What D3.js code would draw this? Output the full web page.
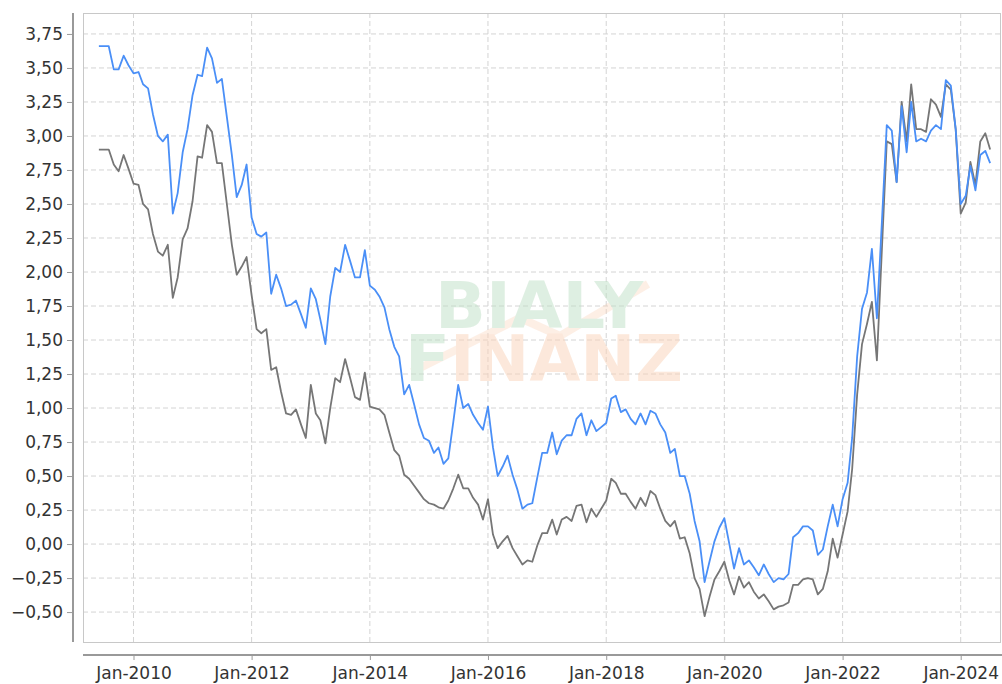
<!DOCTYPE html>
<html lang="en">
<head>
<meta charset="utf-8" />
<title>Rates</title>
<style>
  * { margin: 0; padding: 0; }
  body { background: #fff; font-family: "DejaVu Sans", sans-serif; }
  .grid line { stroke: #d4d4d4; stroke-width: 1; stroke-dasharray: 5,3; }
  .axis text { font-family: "DejaVu Sans", sans-serif; font-size: 17px; fill: #333; }
  .axis line, .axis path { stroke: #999; }
  .line { fill: none; stroke-width: 1.8; stroke-linejoin: round; }
</style>
</head>
<body>
<script src="https://d3js.org/d3.v7.min.js"></script>
<div id="chart"></div>
<script>

  // monthly values, first month June 2009
  var firstMonth = [2009, 5];
  var blueValues = [
    3.66, 3.66, 3.66, 3.49, 3.49, 3.59, 3.52,
    3.46, 3.47, 3.38, 3.35, 3.16, 3.00, 2.96, 3.01, 2.43, 2.58,
    2.88, 3.05, 3.30, 3.45, 3.44, 3.65, 3.57, 3.39, 3.42, 3.14,
    2.86, 2.55, 2.64, 2.79, 2.40, 2.28, 2.26, 2.29, 1.84, 1.98,
    1.88, 1.75, 1.76, 1.79, 1.69, 1.59, 1.88, 1.80, 1.65, 1.47,
    1.82, 2.03, 2.00, 2.20, 2.08, 1.96, 1.96, 2.16, 1.90, 1.87,
    1.82, 1.74, 1.58, 1.45, 1.38, 1.10, 1.17, 1.03, 0.88, 0.78,
    0.76, 0.67, 0.71, 0.59, 0.63, 0.90, 1.17, 1.00, 1.03, 0.95,
    0.89, 0.84, 1.01, 0.71, 0.50, 0.57, 0.65, 0.51, 0.40, 0.26,
    0.29, 0.30, 0.49, 0.67, 0.67, 0.82, 0.66, 0.76, 0.80, 0.80,
    0.92, 0.96, 0.80, 0.91, 0.83, 0.86, 0.89, 1.07, 1.09, 0.97,
    0.99, 0.92, 0.88, 0.96, 0.88, 0.98, 0.96, 0.88, 0.82, 0.67,
    0.70, 0.50, 0.50, 0.37, 0.17, 0.02, -0.28, -0.13, 0.02, 0.12,
    0.19, 0.00, -0.18, -0.03, -0.15, -0.12, -0.17, -0.23, -0.15, -0.22,
    -0.28, -0.25, -0.26, -0.22, 0.05, 0.08, 0.13, 0.13, 0.10, -0.08,
    -0.04, 0.13, 0.29, 0.13, 0.33, 0.45, 0.78, 1.38, 1.73, 1.85,
    2.17, 1.66, 2.37, 3.08, 3.04, 2.66, 3.22, 2.88, 3.25, 2.96,
    2.98, 2.96, 3.04, 3.08, 3.05, 3.41, 3.37, 3.05, 2.50, 2.56,
    2.78, 2.60, 2.86, 2.89, 2.80
  ];
  var grayValues = [
    2.90, 2.90, 2.90, 2.79, 2.74, 2.86, 2.76,
    2.65, 2.64, 2.50, 2.46, 2.28, 2.15, 2.12, 2.20, 1.81, 1.96,
    2.24, 2.32, 2.52, 2.85, 2.84, 3.08, 3.03, 2.80, 2.80, 2.50,
    2.20, 1.98, 2.04, 2.11, 1.83, 1.58, 1.55, 1.58, 1.28, 1.30,
    1.12, 0.96, 0.95, 0.99, 0.88, 0.78, 1.17, 0.96, 0.91, 0.74,
    1.00, 1.22, 1.19, 1.36, 1.22, 1.08, 1.06, 1.26, 1.01, 1.00,
    0.99, 0.95, 0.82, 0.69, 0.65, 0.51, 0.48, 0.43, 0.38, 0.33,
    0.30, 0.29, 0.27, 0.26, 0.32, 0.41, 0.51, 0.41, 0.41, 0.34,
    0.29, 0.18, 0.33, 0.07, -0.03, 0.02, 0.06, -0.03, -0.09, -0.15,
    -0.12, -0.13, -0.01, 0.08, 0.08, 0.18, 0.07, 0.18, 0.20, 0.17,
    0.28, 0.29, 0.16, 0.26, 0.20, 0.26, 0.32, 0.48, 0.45, 0.37,
    0.37, 0.31, 0.26, 0.34, 0.28, 0.39, 0.36, 0.26, 0.17, 0.13,
    0.17, 0.04, 0.05, -0.07, -0.25, -0.33, -0.53, -0.39, -0.26, -0.20,
    -0.13, -0.27, -0.37, -0.24, -0.32, -0.28, -0.35, -0.40, -0.37, -0.42,
    -0.48, -0.46, -0.45, -0.43, -0.30, -0.30, -0.26, -0.25, -0.26, -0.37,
    -0.33, -0.20, 0.04, -0.10, 0.07, 0.24, 0.55, 1.10, 1.47, 1.62,
    1.78, 1.35, 2.17, 2.96, 2.94, 2.66, 3.25, 2.96, 3.38, 3.05,
    3.05, 3.03, 3.27, 3.23, 3.14, 3.38, 3.34, 3.05, 2.43, 2.51,
    2.81, 2.64, 2.96, 3.02, 2.90
  ];
  var yTicks = [-0.5, -0.25, 0, 0.25, 0.5, 0.75, 1, 1.25, 1.5, 1.75, 2, 2.25, 2.5, 2.75, 3, 3.25, 3.5, 3.75];
  var xTickYears = [2010, 2012, 2014, 2016, 2018, 2020, 2022, 2024];

  var W = 1002, H = 684;
  var plotL = 83, plotR = 1000, plotT = 13, plotB = 642;

  var svg = d3.select("#chart").append("svg")
      .attr("width", W)
      .attr("height", H);

  var x = d3.scaleTime()
      .domain([new Date(2010, 0, 1), new Date(2024, 0, 1)])
      .range([133.5, 960.7]);
  var y = d3.scaleLinear()
      .domain([-0.72, 3.904])
      .range([plotB, plotT]);

  var xTicks = xTickYears.map(function(yr) { return new Date(yr, 0, 1); });
  var fmtY = function(d) { return d3.format(".2f")(d).replace(".", ","); };

  // grid
  var grid = svg.append("g").attr("class", "grid");
  grid.selectAll(".h").data(yTicks).enter().append("line")
      .attr("x1", plotL).attr("x2", plotR)
      .attr("y1", function(d) { return y(d); })
      .attr("y2", function(d) { return y(d); });
  grid.selectAll(".v").data(xTicks).enter().append("line")
      .attr("y1", plotT).attr("y2", plotB)
      .attr("x1", function(d) { return x(d); })
      .attr("x2", function(d) { return x(d); });

  // watermark
  var wm = svg.append("g").attr("opacity", 0.5)
      .style("font-family", "'DejaVu Sans', sans-serif")
      .style("font-weight", "bold")
      .style("font-size", "64px");
  wm.append("path")
      .attr("d", "M412,372 L520,318 L560,336 L648,284")
      .attr("fill", "none")
      .attr("stroke", "#fbd3b8")
      .attr("stroke-opacity", 0.7)
      .attr("stroke-width", 8);
  wm.append("text").attr("x", 435).attr("y", 328)
      .attr("textLength", 208).attr("lengthAdjust", "spacingAndGlyphs")
      .attr("fill", "#bfe0c6").text("BIALY");
  var fin = wm.append("text").attr("x", 405).attr("y", 381)
      .attr("textLength", 278).attr("lengthAdjust", "spacingAndGlyphs");
  fin.append("tspan").attr("fill", "#bfe0c6").text("F");
  fin.append("tspan").attr("fill", "#fbd3b8").text("INANZ");

  // plot border
  svg.append("rect")
      .attr("x", plotL + 0.5).attr("y", plotT + 0.5)
      .attr("width", plotR - plotL).attr("height", plotB - plotT)
      .attr("fill", "none").attr("stroke", "#c8c8c8");

  // axes
  var yAxis = svg.append("g").attr("class", "axis")
      .attr("transform", "translate(73,0)")
      .call(d3.axisLeft(y).tickValues(yTicks).tickFormat(fmtY).tickSize(6).tickSizeOuter(0).tickPadding(4));
  yAxis.select(".domain").attr("d", "M0," + plotT + "V" + plotB).attr("stroke-width", 2);

  var xAxis = svg.append("g").attr("class", "axis")
      .attr("transform", "translate(0,655)")
      .call(d3.axisBottom(x).tickValues(xTicks).tickFormat(d3.timeFormat("Jan-%Y")).tickSize(5).tickSizeOuter(0).tickPadding(7));
  xAxis.select(".domain").attr("d", "M" + plotL + ",0H" + W).attr("stroke-width", 2);

  // series
  var dates = blueValues.map(function(d, i) { return new Date(firstMonth[0], firstMonth[1] + i, 1); });
  var line = d3.line()
      .x(function(d, i) { return x(dates[i]); })
      .y(function(d) { return y(d); });

  svg.append("path").datum(grayValues)
      .attr("class", "line")
      .attr("stroke", "#767676")
      .attr("d", line);
  svg.append("path").datum(blueValues)
      .attr("class", "line")
      .attr("stroke", "#4a8ff7")
      .attr("d", line);

</script>
</body>
</html>
